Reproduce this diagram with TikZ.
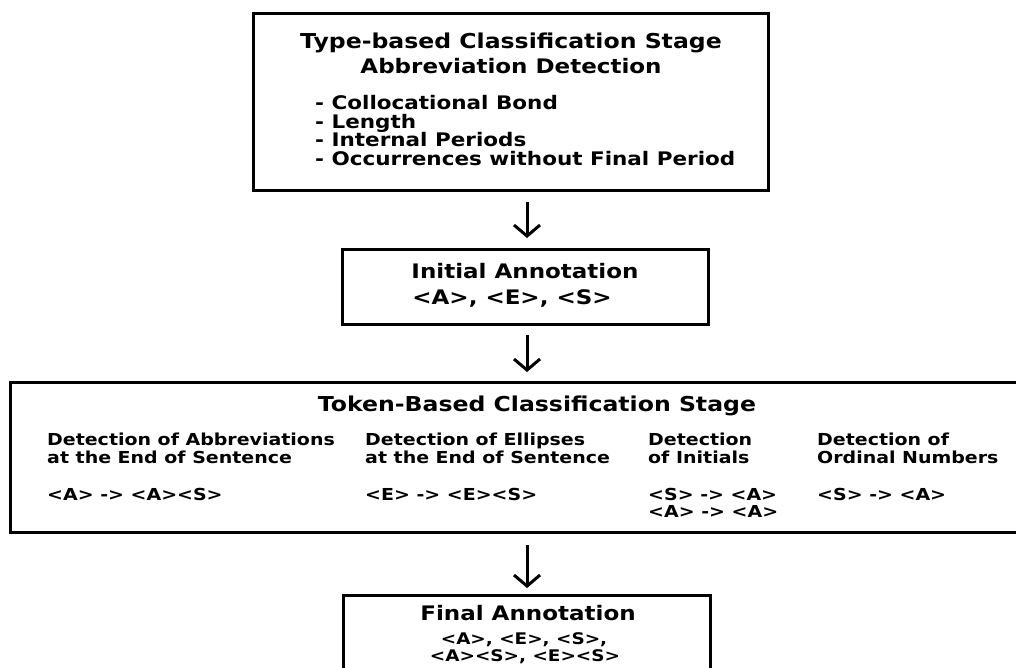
\documentclass[tikz,border=0pt]{standalone}
\usepackage{fontspec}
\newfontfamily\dvb[FakeStretch=1.15]{DejaVu Sans Bold}
\usetikzlibrary{arrows.meta}
\begin{document}
\begin{tikzpicture}[x=1pt,y=-1pt,
  box/.style={draw, line width=3pt, inner sep=0pt, outer sep=0pt, anchor=north west},
  big/.style={inner sep=0pt, anchor=base, font=\dvb\fontsize{20}{24}\selectfont},
  head/.style={inner sep=0pt, anchor=base, font=\dvb\fontsize{20.5}{24}\selectfont},
  item/.style={inner sep=0pt, anchor=base west, font=\dvb\fontsize{18.7}{22}\selectfont},
  small/.style={inner sep=0pt, anchor=base west, font=\dvb\fontsize{16.5}{19}\selectfont},
  fin/.style={inner sep=0pt, anchor=base, font=\dvb\fontsize{16}{19}\selectfont},
  flow/.style={line width=3pt, -{Straight Barb[length=11pt,width=26pt]}}]
\clip (0,0) rectangle (1016,667);
\fill[white] (0,0) rectangle (1016,667);
% boxes
\node[box, minimum width=515pt, minimum height=177pt] (b1) at (253,13) {};
\node[box, minimum width=366pt, minimum height=75pt] (b2) at (342,249) {};
\node[box, minimum width=1030pt, minimum height=150pt] (b3) at (10,382) {};
\node[box, minimum width=367pt, minimum height=90pt] (b4) at (343,595) {};
% box 1 text
\node[head] (t1a) at (511,48) {Type-based Classification Stage};
\node[big] (t1b) at (511,73) {Abbreviation Detection};
\node[item] (i1) at (315,109) {- Collocational Bond};
\node[item] (i2) at (315,128) {- Length};
\node[item] (i3) at (315,146) {- Internal Periods};
\node[item] (i4) at (315,165) {- Occurrences without Final Period};
% box 2 text
\node[big] (t2a) at (525,278) {Initial Annotation};
\node[big] (t2b) at (512,304) {<A>, <E>, <S>};
% box 3 text
\node[head] (t3) at (537,411) {Token-Based Classification Stage};
\node[small] (c1a) at (47,445) {Detection of Abbreviations};
\node[small] (c1b) at (47,463) {at the End of Sentence};
\node[small] (c1c) at (47,500) {<A> -> <A><S>};
\node[small] (c2a) at (365,445) {Detection of Ellipses};
\node[small] (c2b) at (365,463) {at the End of Sentence};
\node[small] (c2c) at (365,500) {<E> -> <E><S>};
\node[small] (c3a) at (648,445) {Detection};
\node[small] (c3b) at (648,463) {of Initials};
\node[small] (c3c) at (648,500) {<S> -> <A>};
\node[small] (c3d) at (648,517) {<A> -> <A>};
\node[small] (c4a) at (817,445) {Detection of};
\node[small] (c4b) at (817,463) {Ordinal Numbers};
\node[small] (c4c) at (817,500) {<S> -> <A>};
% box 4 text
\node[big] (t4a) at (528,620) {Final Annotation};
\node[fin] (t4b) at (524,644) {<A>, <E>, <S>,};
\node[fin] (t4c) at (525,661) {<A><S>, <E><S>};
% arrows
\coordinate (ax) at (527,300);
\draw[flow, shorten <=12pt, shorten >=11pt] (b1.south -| ax) -- (b2.north -| ax);
\draw[flow, shorten <=11pt, shorten >=10pt] (b2.south -| ax) -- (b3.north -| ax);
\draw[flow, shorten <=13pt, shorten >=7pt] (b3.south -| ax) -- (b4.north -| ax);
\end{tikzpicture}
\end{document}
